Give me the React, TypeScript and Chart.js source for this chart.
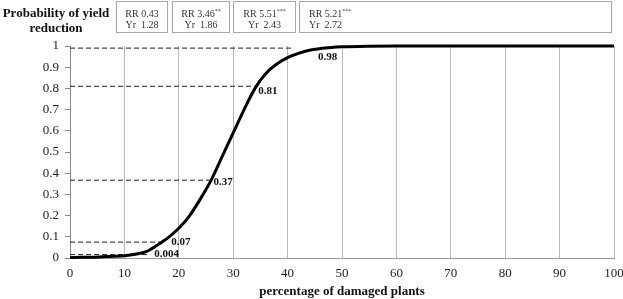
import React, { useEffect, useRef } from "react";
import { Chart, registerables } from "chart.js";

Chart.register(...registerables);

// Curve: probability of yield reduction vs percentage of damaged plants
const damagePct = [0, 2, 4, 6, 8, 10, 12, 14, 16, 17, 18, 20, 22, 24, 26, 28, 30, 32, 34, 36, 38, 40, 42, 44, 46, 48, 50, 55, 60, 70, 80, 90, 100];
const probability = [0.002, 0.003, 0.004, 0.006, 0.008, 0.011, 0.018, 0.03, 0.06, 0.077, 0.095, 0.14, 0.2, 0.28, 0.37, 0.48, 0.59, 0.7, 0.8, 0.87, 0.915, 0.945, 0.965, 0.98, 0.988, 0.993, 0.996, 0.999, 1, 1, 1, 1, 1];

// Reference markers (dashed guide lines and their labels)
const markerLabels = ["0.004", "0.07", "0.37", "0.81", "0.98"];
const markerLevel = [0.016, 0.075, 0.367, 0.81, 0.99];
const markerEndPct = [14.4, 16.6, 25.9, 34, 41];
const labelPct = [15.5, 18.6, 26.4, 34.6, 45.6];
const labelLevel = [0.017, 0.075, 0.356, 0.787, 0.947];

// Header boxes
const rrValues = ["0.43", "3.46", "5.51", "5.21"];
const rrStars = ["", "**", "***", "***"];
const yrValues = ["1.28", "1.86", "2.43", "2.72"];

const xTicks = { min: 0, max: 100, step: 10 };
const yTicks = { min: 0, max: 1, step: 0.1 };

const SERIF = "'Liberation Serif', 'Times New Roman', serif";

const boxGeom = [
  { left: 116, width: 52, align: "center" },
  { left: 172, width: 58, align: "center" },
  { left: 233, width: 63, align: "center" },
  { left: 299, width: 313, align: "left" },
];

export default function App() {
  const ref = useRef<HTMLCanvasElement | null>(null);

  useEffect(() => {
    if (!ref.current) return;
    const labelPlugin = {
      id: "markerLabels",
      afterDatasetsDraw(chart: any) {
        const ctx = chart.ctx;
        const xs = chart.scales.x;
        const ys = chart.scales.y;
        ctx.save();
        ctx.font = `bold 11px ${SERIF}`;
        ctx.fillStyle = "#111";
        ctx.textAlign = "left";
        ctx.textBaseline = "middle";
        markerLabels.forEach((t, i) => {
          ctx.fillText(t, xs.getPixelForValue(labelPct[i]), ys.getPixelForValue(labelLevel[i]));
        });
        ctx.restore();
      },
    };

    const dashed = markerLabels.map((_, i) => ({
      data: [
        { x: 0, y: markerLevel[i] },
        { x: markerEndPct[i], y: markerLevel[i] },
      ],
      borderColor: "#222",
      borderWidth: 1,
      borderDash: [5, 3],
      pointRadius: 0,
      fill: false,
    }));

    const chart = new Chart(ref.current, {
      type: "line",
      data: {
        datasets: [
          {
            data: damagePct.map((x, i) => ({ x, y: probability[i] })),
            borderColor: "#000",
            borderWidth: 3,
            pointRadius: 0,
            cubicInterpolationMode: "monotone",
            fill: false,
            clip: false as any,
          },
          ...dashed,
        ] as any,
      },
      options: {
        animation: false,
        responsive: false,
        maintainAspectRatio: false,
        layout: { padding: { left: 0, right: 9, top: 46, bottom: 0 } },
        plugins: { legend: { display: false }, tooltip: { enabled: false } },
        scales: {
          x: {
            type: "linear",
            min: xTicks.min,
            max: xTicks.max,
            ticks: {
              stepSize: xTicks.step,
              color: "#222",
              font: { family: SERIF, size: 13 },
              padding: 8,
              maxRotation: 0,
            },
            grid: { color: "#b8b8b8", drawTicks: false, lineWidth: 1 },
            border: { color: "#999", width: 1 },
            title: {
              display: true,
              text: "percentage of damaged plants",
              color: "#111",
              font: { family: SERIF, size: 13, weight: "bold" },
              padding: { top: 4, bottom: 0 },
            },
            afterFit(scale: any) {
              scale.height = 41;
              scale.paddingLeft = 0;
              scale.paddingRight = 0;
            },
          },
          y: {
            type: "linear",
            min: yTicks.min,
            max: yTicks.max,
            ticks: {
              stepSize: yTicks.step,
              color: "#222",
              font: { family: SERIF, size: 13 },
              padding: 6,
              callback: (v: any) => String(Math.round(Number(v) * 10) / 10),
            },
            grid: { drawOnChartArea: false, drawTicks: true, tickLength: 5, tickColor: "#888" },
            border: { color: "#888", width: 1 },
            afterFit(scale: any) {
              scale.width = 70;
              scale.paddingTop = 0;
              scale.paddingBottom = 0;
            },
          },
        },
      },
      plugins: [labelPlugin],
    });
    return () => chart.destroy();
  }, []);

  return (
    <div style={{ position: "fixed", left: 0, top: 0, width: 623, height: 299, background: "#fff", fontFamily: SERIF }}>
      <canvas ref={ref} width={623} height={299} style={{ position: "absolute", left: 0, top: 0, display: "block" }} />
      <div
        style={{
          position: "absolute",
          left: 0,
          top: 5,
          width: 112,
          textAlign: "center",
          fontWeight: "bold",
          fontSize: 13,
          lineHeight: "15px",
          whiteSpace: "nowrap",
          color: "#111",
        }}
      >
        Probability of yield
        <br />
        reduction
      </div>
      {boxGeom.map((b, i) => (
        <div
          key={i}
          style={{
            position: "absolute",
            left: b.left,
            top: 1,
            width: b.width,
            height: 32,
            boxSizing: "border-box",
            border: "1px solid #a8a8a8",
            fontSize: 10,
            lineHeight: "11px",
            color: "#333",
            textAlign: b.align as any,
            paddingLeft: b.align === "left" ? 9 : 0,
            paddingTop: 6,
          }}
        >
          <div>
            RR {rrValues[i]}
            {rrStars[i] ? <sup style={{ fontSize: 6, verticalAlign: "top", lineHeight: "6px" }}>{rrStars[i]}</sup> : null}
          </div>
          <div>Yr&nbsp; {yrValues[i]}</div>
        </div>
      ))}
    </div>
  );
}
